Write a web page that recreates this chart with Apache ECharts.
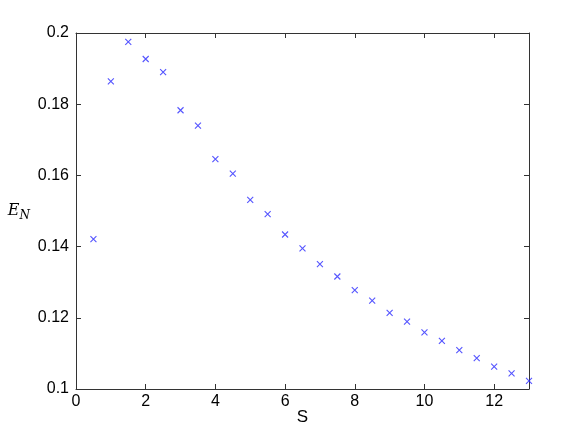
<!DOCTYPE html>
<html>
<head>
<meta charset="utf-8">
<script src="https://cdn.jsdelivr.net/npm/echarts@6/dist/echarts.min.js"></script>
<style>
  html, body { margin: 0; padding: 0; background: #fff; }
  #chart { width: 584px; height: 439px; }
</style>
</head>
<body>
<div id="chart"></div>
<script>
const sValues = [0.5, 1, 1.5, 2, 2.5, 3, 3.5, 4, 4.5, 5, 5.5, 6, 6.5, 7, 7.5, 8, 8.5, 9, 9.5, 10, 10.5, 11, 11.5, 12, 12.5, 13];
const enValues = [0.1421, 0.1864, 0.1975, 0.1927, 0.1890, 0.1783, 0.1740, 0.1646, 0.1605, 0.1531,
  0.1491, 0.1434, 0.1395, 0.1351, 0.1316, 0.1278, 0.1248, 0.1214, 0.1189, 0.1159,
  0.1135, 0.1109, 0.1087, 0.1063, 0.1044, 0.1023];

const FONT = "Liberation Sans";
const AXIS_COL = "#333";
const MARK = "#2b2bff";

const chart = echarts.init(document.getElementById("chart"));

const frameAxis = {
  axisLine: { show: true, onZero: false, lineStyle: { color: AXIS_COL, width: 1 } },
  axisTick: { show: true, inside: true, length: 5, lineStyle: { color: AXIS_COL } },
  splitLine: { show: false }
};

chart.setOption({
  animation: false,
  grid: { left: 76, right: 55, top: 33, bottom: 50 },
  xAxis: [
    { type: "value", min: 0, max: 13, interval: 2, ...frameAxis,
      axisLabel: { color: "#000", fontFamily: FONT, fontSize: 16, margin: 5,
        formatter: (v) => (v > 12 ? "" : String(v)) },
      name: "S", nameLocation: "middle", nameGap: 20, nameMoveOverlap: false,
      nameTextStyle: { color: "#000", fontFamily: FONT, fontSize: 17 } },
    { type: "value", position: "top", min: 0, max: 13, interval: 2, ...frameAxis,
      axisLabel: { show: false } }
  ],
  yAxis: [
    { type: "value", min: 0.1, max: 0.2, interval: 0.02, ...frameAxis,
      axisLabel: { color: "#000", fontFamily: FONT, fontSize: 16, margin: 7,
        formatter: (v) => String(+v.toFixed(2)) },
      name: "{e|E}{n|N}", nameLocation: "middle", nameGap: 46, nameRotate: 0,
      nameMoveOverlap: false,
      nameTextStyle: { rich: {
        e: { fontFamily: "DejaVu Serif", fontStyle: "italic", fontSize: 16, color: "#000" },
        n: { fontFamily: "DejaVu Serif", fontStyle: "italic", fontSize: 12, color: "#000", verticalAlign: "bottom", padding: [10, 0, 0, 0] }
      } } },
    { type: "value", position: "right", min: 0.1, max: 0.2, interval: 0.02, ...frameAxis,
      axisLabel: { show: false } }
  ],
  series: [{
    type: "scatter",
    data: sValues.map((s, i) => [s, enValues[i]]),
    symbol: "path://M0,0L10,10M10,0L0,10",
    symbolSize: 6,
    clip: false,
    itemStyle: { color: "none", borderColor: MARK, borderWidth: 1.1 }
  }]
});
</script>
</body>
</html>
